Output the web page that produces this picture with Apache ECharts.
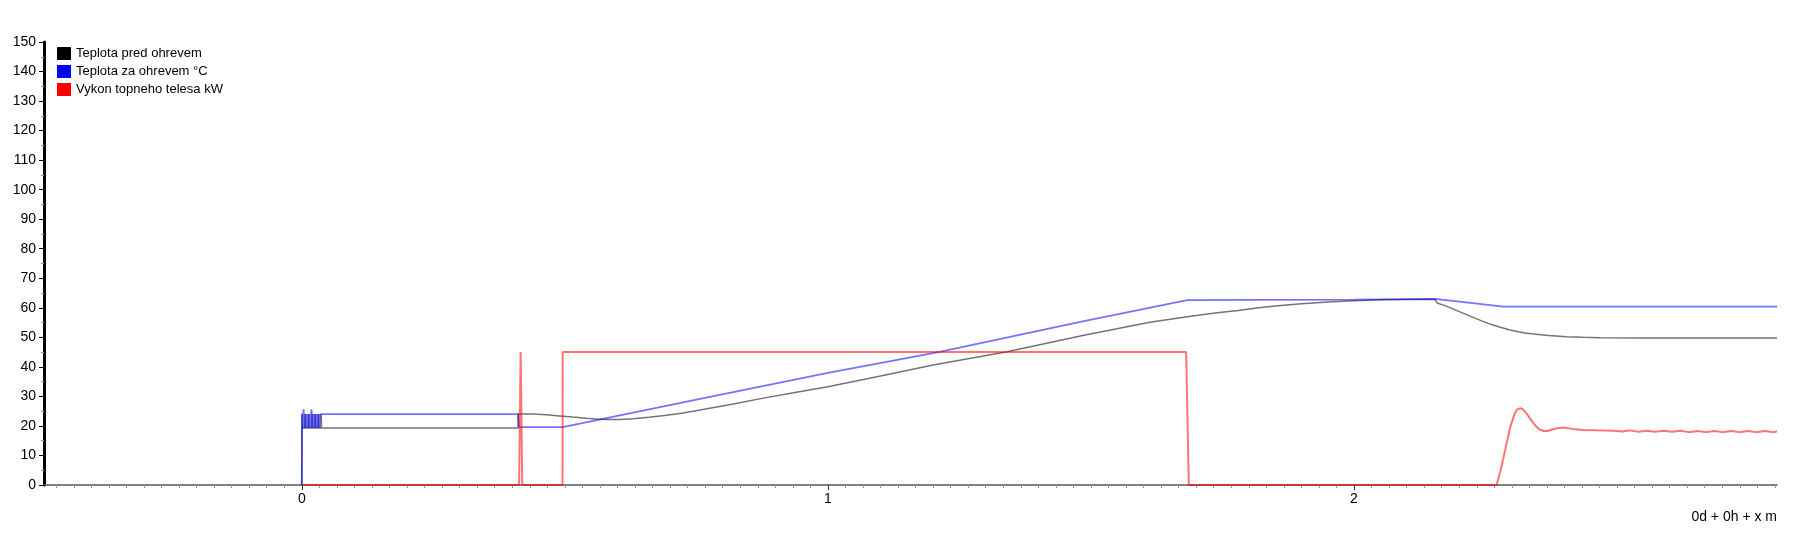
<!DOCTYPE html>
<html>
<head>
<meta charset="utf-8">
<script src="https://cdn.jsdelivr.net/npm/echarts@6/dist/echarts.min.js"></script>
<style>
  html, body { margin: 0; padding: 0; background: #fff; }
  #chart { width: 1812px; height: 559px; }
</style>
</head>
<body>
<div id="chart"></div>
<script>
// time in minutes
const predT = [0, 0.0005, 0.001, 0.006, 0.0065, 0.007, 0.0125, 0.013, 0.0135, 0.019, 0.0195, 0.02,
  0.025, 0.0255, 0.026, 0.031, 0.0315, 0.032, 0.0365, 0.037, 0.0375,
  0.411, 0.4115, 0.44, 0.465, 0.49, 0.515, 0.541, 0.56, 0.58, 0.605, 0.63, 0.66, 0.693, 0.725, 0.757,
  0.82, 0.88, 0.94, 1.0, 1.1, 1.2, 1.338, 1.489, 1.612, 1.66, 1.70, 1.74, 1.78, 1.815, 1.85, 1.90,
  1.95, 2.00, 2.05, 2.10, 2.154, 2.158, 2.17, 2.185, 2.20, 2.214, 2.23, 2.245, 2.26, 2.278, 2.295,
  2.31, 2.325, 2.341, 2.37, 2.404, 2.435, 2.468, 2.55, 2.65, 2.804];
const predV = [0, 24, 19.3, 19.3, 24, 19.3, 19.3, 24, 19.3, 19.3, 24, 19.3,
  19.3, 24, 19.3, 19.3, 24, 19.3, 19.3, 24, 19.3,
  19.3, 24, 24, 23.8, 23.4, 23.0, 22.6, 22.35, 22.2, 22.2, 22.4, 22.9, 23.6, 24.4, 25.4,
  27.4, 29.5, 31.4, 33.3, 36.9, 40.6, 45, 50.8, 55.1, 56.4, 57.4, 58.3, 59.1, 59.9, 60.6, 61.4,
  62.0, 62.4, 62.7, 62.8, 62.9, 61.6, 60.9, 59.9, 58.7, 57.7, 56.5, 55.4, 54.4, 53.4, 52.6,
  52.0, 51.5, 51.1, 50.6, 50.2, 50.0, 49.9, 49.8, 49.8, 49.8];

const zaT = [0, 0.0005, 0.0015, 0.0025, 0.0035, 0.0045, 0.0055, 0.0065, 0.0075, 0.0085, 0.0095,
  0.0105, 0.0115, 0.0125, 0.0135, 0.0145, 0.0155, 0.0165, 0.0175, 0.0185, 0.0195, 0.0205, 0.0215,
  0.0225, 0.0235, 0.0245, 0.0255, 0.0265, 0.0275, 0.0285, 0.0295, 0.0305, 0.0315, 0.0325, 0.0335,
  0.035, 0.411, 0.413, 0.496, 0.60, 0.757, 1.0, 1.21, 1.489, 1.683, 1.80, 2.00, 2.154, 2.284, 2.50, 2.804];
const zaV = [0, 24, 19.3, 24, 25.6, 19.3, 24, 19.3, 24, 19.3, 24,
  19.3, 24, 19.3, 24, 19.3, 24, 19.3, 24, 25.6, 19.3, 24, 19.3,
  24, 19.3, 24, 19.3, 24, 19.3, 24, 19.3, 24, 19.3, 24, 19.3,
  24, 24, 19.6, 19.6, 23.4, 29.2, 38.0, 45, 55.6, 62.6, 62.7, 62.8, 63.0, 60.4, 60.4, 60.4];

const vykT = [0, 0.413, 0.416, 0.419, 0.4956, 0.4958, 1.681, 1.686, 2.271, 2.28, 2.29, 2.297, 2.305,
  2.31, 2.316, 2.322, 2.328, 2.335, 2.341, 2.347, 2.352, 2.36, 2.368, 2.375, 2.386, 2.398, 2.415,
  2.436, 2.46, 2.493,
  2.51, 2.525, 2.54, 2.557, 2.572, 2.589, 2.604, 2.621, 2.636, 2.653, 2.668, 2.685, 2.70, 2.717,
  2.732, 2.749, 2.764, 2.781, 2.796, 2.804];
const vykV = [0, 0, 45, 0, 0, 45, 45, 0, 0, 6, 14, 19.7, 24,
  25.6, 26, 25.5, 24.2, 22.4, 20.9, 19.7, 18.9, 18.3, 18.3, 18.7, 19.2, 19.5, 19.0,
  18.6, 18.5, 18.4,
  18.1, 18.5, 18.0, 18.4, 18.0, 18.4, 18.0, 18.4, 17.9, 18.3, 17.9, 18.3, 17.9, 18.3,
  17.9, 18.3, 17.9, 18.3, 17.9, 18.1];

const names = ['Teplota pred ohrevem', 'Teplota za ohrevem °C', 'Vykon topneho telesa kW'];
const xLabels = [0, 1, 2];
const xMin = -0.49, xMax = 2.804;
const yMin = 0, yMax = 150, yStep = 10;

const font = 'Liberation Sans';
const zip = (t, v) => t.map((x, i) => [x, v[i]]);

// minor ticks every 2 s (1/30 min)
const minorTicks = [];
for (let k = Math.ceil(xMin * 30); k <= Math.floor(xMax * 30); k++) {
  if (k % 30 !== 0) minorTicks.push(k / 30);
}

const chart = echarts.init(document.getElementById('chart'));
chart.setOption({
  animation: false,
  backgroundColor: '#fff',
  grid: { left: 44, right: 35, top: 42, bottom: 74 },
  title: {
    text: '0d + 0h + x m',
    right: 35, top: 510, padding: 0,
    textStyle: { fontFamily: font, fontSize: 14, fontWeight: 'normal', color: '#000' }
  },
  legend: {
    orient: 'vertical',
    left: 57, top: 47, padding: 0,
    itemWidth: 14, itemHeight: 13, itemGap: 5,
    icon: 'rect',
    textStyle: { fontFamily: font, fontSize: 13, color: '#000' },
    data: [
      { name: names[0], itemStyle: { color: '#000' } },
      { name: names[1], itemStyle: { color: '#0000ff' } },
      { name: names[2], itemStyle: { color: '#ff0000' } }
    ]
  },
  xAxis: [
    {
      type: 'value', min: xMin, max: xMax,
      axisLine: { lineStyle: { color: '#555', width: 1.5 } },
      axisTick: { customValues: xLabels, length: 5, lineStyle: { color: '#333' } },
      axisLabel: { customValues: xLabels, margin: 7, fontFamily: font, fontSize: 14, color: '#000' },
      splitLine: { show: false }
    },
    {
      type: 'value', min: xMin, max: xMax, position: 'bottom',
      axisLine: { show: false },
      axisTick: { customValues: minorTicks, length: 3, lineStyle: { color: '#8797aa' } },
      axisLabel: { show: false },
      splitLine: { show: false }
    }
  ],
  yAxis: {
    type: 'value', min: yMin, max: yMax, interval: yStep,
    axisLine: { show: true, onZero: false, lineStyle: { color: '#000', width: 3 } },
    axisTick: { show: true, length: 5, lineStyle: { color: '#000' } },
    minorTick: { show: true, splitNumber: 2, length: 3, lineStyle: { color: '#8797aa' } },
    axisLabel: { margin: 8, fontFamily: font, fontSize: 14, color: '#000' },
    splitLine: { show: false }
  },
  series: [
    {
      name: names[0], type: 'line', showSymbol: false, xAxisIndex: 0,
      itemStyle: { color: '#000' },
      lineStyle: { color: 'rgba(0,0,0,0.55)', width: 1.5 },
      data: zip(predT, predV)
    },
    {
      name: names[1], type: 'line', showSymbol: false, xAxisIndex: 0,
      itemStyle: { color: '#0000ff' },
      lineStyle: { color: 'rgba(0,0,255,0.55)', width: 1.8 },
      data: zip(zaT, zaV)
    },
    {
      name: names[2], type: 'line', showSymbol: false, xAxisIndex: 0,
      itemStyle: { color: '#ff0000' },
      lineStyle: { color: 'rgba(255,0,0,0.55)', width: 2 },
      data: zip(vykT, vykV)
    }
  ]
});
</script>
</body>
</html>
